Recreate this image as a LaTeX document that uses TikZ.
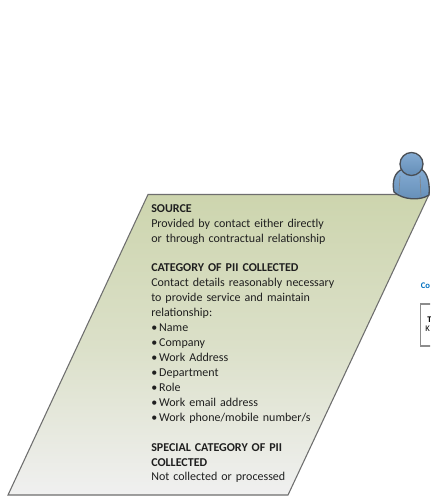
\documentclass[tikz,border=0pt]{standalone}
\usepackage{fontspec}
\setmainfont{Carlito}
\definecolor{edge}{HTML}{6E6E6E}
\definecolor{boxedge}{HTML}{8C8C8C}
\definecolor{topgreen}{HTML}{CDD5AE}
\definecolor{botgrey}{HTML}{F0F0F0}
\definecolor{persblue}{HTML}{6F9DCB}
\definecolor{persdark}{HTML}{4A4F55}
\definecolor{linkblue}{HTML}{0070C0}
\tikzset{
 pane/.style={draw=edge,line width=0.8pt,top color=topgreen,bottom color=botgrey,middle color=topgreen!60!botgrey},
 bodytext/.style={anchor=north west,align=left,inner sep=0pt,text=black!88,font=\fontsize{9pt}{11.2pt}\selectfont,text width=150pt},
 figure/.style={draw=persdark,line width=1pt,top color=persblue!85!white,bottom color=persblue!90!black},
 tiny/.style={inner sep=0pt,anchor=west,font=\fontsize{6.5pt}{7.5pt}\selectfont}
}
\begin{document}
\begin{tikzpicture}[x=0.75pt,y=-0.75pt]
\useasboundingbox (0,0) rectangle (430,497);
\clip (0,0) rectangle (430,497);
\fill[white] (0,0) rectangle (430,497);
% parallelogram
\path[pane] (148,194.5) -- (429,194.5) -- (288,495) -- (8,495) -- cycle;
% person, in front of the parallelogram's corner
\draw[figure] (394,192) .. controls (392,182) and (394,172) .. (403,169) .. controls (408,172) and (416,172) .. (421,169) .. controls (428,173) and (430,184) .. (429,195) .. controls (420,201) and (403,200) .. (394,192) -- cycle;
\draw[persdark!70,line width=0.5pt] (400,176) -- (399,193) (420,176) -- (421,196);
\draw[figure] (411.5,164) circle (11.5);
\node[bodytext] (txt) at (151,204) {\textbf{SOURCE}\\
Provided by contact either directly\\
or through contractual relationship\\[11.2pt]
\textbf{CATEGORY OF PII COLLECTED}\\
Contact details reasonably necessary\\
to provide service and maintain\\
relationship:\\
\textbullet\,Name\\
\textbullet\,Company\\
\textbullet\,Work Address\\
\textbullet\,Department\\
\textbullet\,Role\\
\textbullet\,Work email address\\
\textbullet\,Work phone/mobile number/s\\[11.2pt]
\textbf{SPECIAL CATEGORY OF PII}\\
\textbf{COLLECTED}\\
Not collected or processed};
% clipped material at the right
\node[tiny,text=linkblue] (cut) at (420.5,285.5) {\textbf{Co}};
\draw[boxedge,line width=1pt,fill=white] (420.5,304) rectangle (445,346);
\draw[boxedge,line width=1.3pt] (420.5,304) -- (420.5,346);
\node[tiny] (t1) at (427,320) {\textbf{T}};
\node[tiny] (t2) at (425,329) {K};
\end{tikzpicture}
\end{document}
